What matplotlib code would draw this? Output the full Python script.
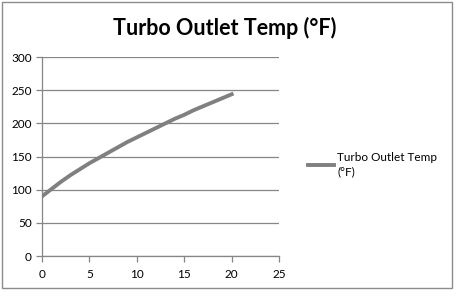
import matplotlib.pyplot as plt
from matplotlib.patches import Rectangle

# data
x = list(range(0, 21))
temp = [90, 101, 112, 122, 131, 140, 148, 156, 164, 172, 179,
        186, 193, 200, 207, 213, 220, 226, 232, 238, 244]
xticks = [0, 5, 10, 15, 20, 25]
yticks = [0, 50, 100, 150, 200, 250, 300]

plt.rcParams['font.family'] = ['Lato', 'DejaVu Sans']

fig = plt.figure(figsize=(4.64, 2.96), dpi=100, facecolor='white')
ax = fig.add_axes([0.0905, 0.135, 0.511, 0.672])

# outer chart border like Excel
fig.patches.append(Rectangle((0.004, 0.027), 0.971, 0.966, transform=fig.transFigure,
                             fill=False, edgecolor='#8c8c8c', linewidth=1.0))

ax.plot(x, temp, color='#808080', linewidth=2.8, label='Turbo Outlet Temp\n(°F)', zorder=3)

ax.set_xlim(0, 25)
ax.set_ylim(0, 300)
ax.set_xticks(xticks)
ax.set_yticks(yticks)
ax.grid(axis='y', color='#868686', linewidth=0.9, zorder=1)
ax.set_axisbelow(True)

for s in ['top', 'right']:
    ax.spines[s].set_visible(False)
for s in ['left', 'bottom']:
    ax.spines[s].set_color('#868686')
    ax.spines[s].set_linewidth(0.9)
ax.tick_params(axis='both', direction='out', length=4, width=0.9, color='#868686',
               labelsize=8.5, labelcolor='black')
ax.tick_params(axis='x', pad=5)

fig.text(0.485, 0.905, 'Turbo Outlet Temp (°F)', ha='center', va='center',
         fontsize=15.5, fontweight='bold')

leg = ax.legend(loc='center left', bbox_to_anchor=(0.64, 0.445), bbox_transform=fig.transFigure,
                frameon=False, fontsize=8.5, handlelength=2.2, handletextpad=0.3)
leg.get_texts()[0].set_linespacing(1.35)

fig.savefig('out.png', dpi=100)
